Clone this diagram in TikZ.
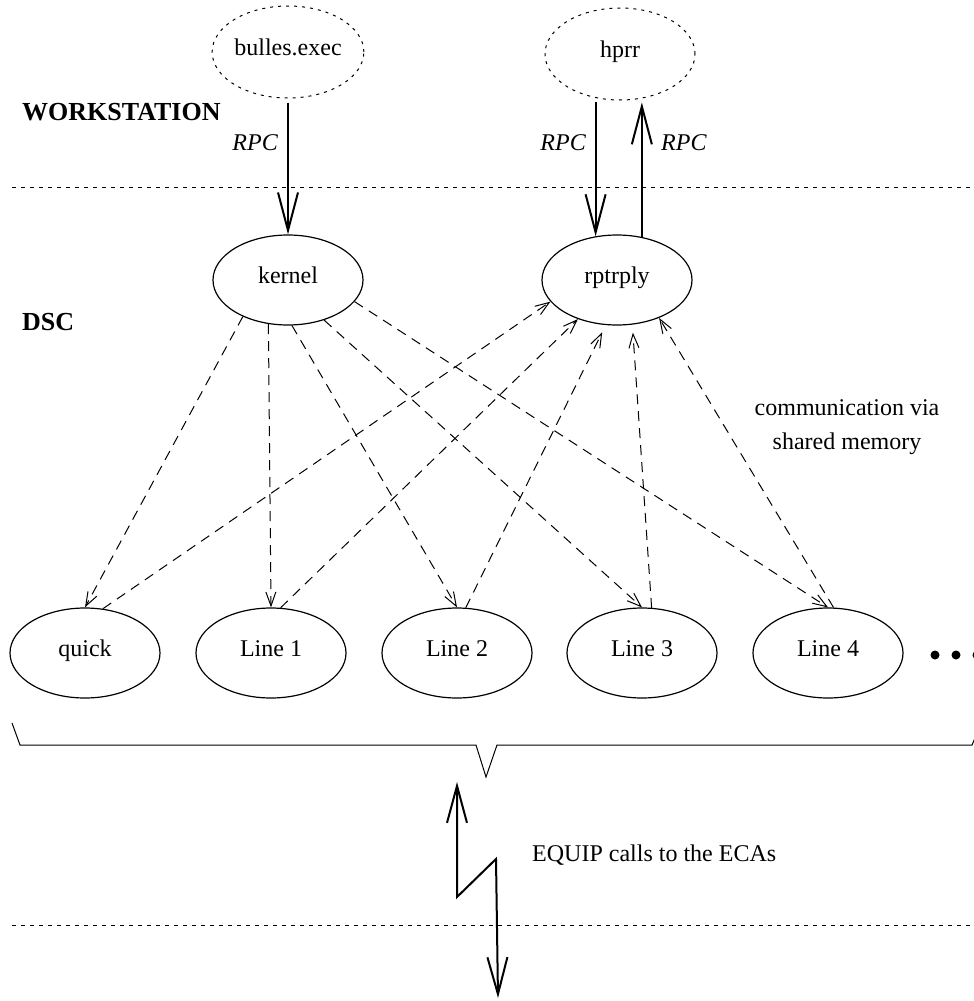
\documentclass[tikz,border=0pt]{standalone}
\usepackage{fontspec}
\setmainfont{Liberation Serif}
\usetikzlibrary{shapes.geometric,arrows.meta}
\begin{document}
\begin{tikzpicture}[x=1pt,y=-1pt,
  font=\fontsize{24}{28}\selectfont,
  proc/.style={ellipse,draw,line width=1.2pt,minimum width=150pt,minimum height=90pt,inner sep=0pt,text height=12pt,text depth=6pt},
  ext/.style={ellipse,draw,line width=1pt,dash pattern=on 3pt off 5pt,minimum width=150pt,minimum height=92pt,inner sep=0pt,text height=12pt,text depth=6pt},
  rpc/.style={line width=2pt,-{Straight Barb[length=38pt,width=20pt]}},
  shm/.style={line width=1pt,dash pattern=on 10pt off 7pt,-{Straight Barb[length=14pt,width=10pt]}},
  sep/.style={line width=1pt,dash pattern=on 4pt off 5pt},
  txt/.style={inner sep=0pt},
  lbl/.style={txt,font=\fontsize{26}{30}\selectfont\bfseries},
  rpcl/.style={txt,font=\fontsize{24}{28}\selectfont\itshape}]
\useasboundingbox (0,0) rectangle (974,1001);

% separators
\draw[sep] (12,187) -- (974,187);
\draw[sep] (12,925) -- (974,925);

% nodes
\node[ext] (bulles) at (288,52) {bulles.exec};
\node[ext] (hprr) at (620,54) {hprr};
\node[proc] (kernel) at (288,280) {kernel};
\node[proc] (rptrply) at (617,280) {rptrply};
\node[proc] (quick) at (85,653) {quick};
\node[proc] (l1) at (271,653) {Line 1};
\node[proc] (l2) at (457,653) {Line 2};
\node[proc] (l3) at (642,653) {Line 3};
\node[proc] (l4) at (828,653) {Line 4};

% labels
\node[lbl, anchor=base west] (ws) at (22,120) {WORKSTATION};
\node[lbl, anchor=base west] (dsc) at (22,330) {DSC};
\node[rpcl, anchor=base east] (r1) at (278,150) {RPC};
\node[rpcl, anchor=base east] (r2) at (586,150) {RPC};
\node[rpcl, anchor=base west] (r3) at (661,150) {RPC};
\node[txt, anchor=base] (c1) at (847,415) {communication via};
\node[txt, anchor=base] (c2) at (847,449) {shared memory};
\node[txt, anchor=base west] (eq) at (532,861) {EQUIP calls to the ECAs};

% RPC arrows
\draw[rpc, shorten <=4pt] (bulles.south) -- (kernel.north);
\draw[rpc, shorten <=4pt] (hprr.241) -- (hprr.241 |- rptrply.116);
\draw[rpc, shorten >=4pt] (rptrply.60) -- (rptrply.60 |- hprr.297);

% shared memory arrows
\draw[shm] (kernel.219) -- (quick.north);
\draw[shm] (kernel.246) -- (l1.north);
\draw[shm] (kernel.275) -- (l2.north);
\draw[shm] (kernel.312) -- (l3.north);
\draw[shm] (kernel.342) -- (l4.north);
\draw[shm] (quick.68) -- (rptrply.198);
\draw[shm] (l1.78) -- (rptrply.225);
\draw[shm, shorten >=8pt] (l2.79) -- (rptrply.256);
\draw[shm, shorten >=8pt] (l3.78) -- (rptrply.289);
\draw[shm] (l4.83) -- (rptrply.318);

% dots
\fill (935,655) circle[radius=4.5];
\fill (956,655) circle[radius=4.5];
\fill (977,655) circle[radius=4.5];

% brace
\draw[line width=1pt] (12,723) -- (20,745) -- (476,745) -- (486,777) -- (497,745) -- (972,745) -- (975,738);

% EQUIP zigzag
\coordinate (zt) at (457,782);
\coordinate (zb) at (498,998);
\draw[line width=2pt, {Straight Barb[length=37pt,width=20pt]}-{Straight Barb[length=37pt,width=20pt]}] (zt) -- (457,897) -- (496,859) -- (zb);
\end{tikzpicture}
\end{document}
